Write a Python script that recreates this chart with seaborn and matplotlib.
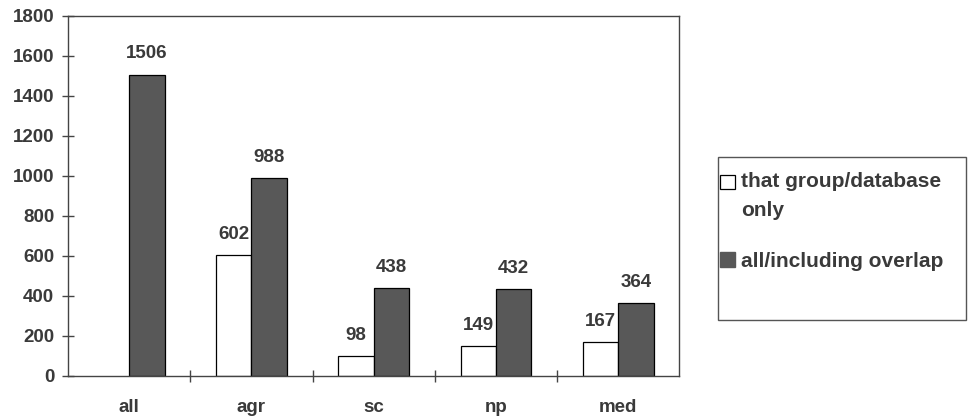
import numpy as np
import pandas as pd
import matplotlib
matplotlib.use("Agg")
import matplotlib.pyplot as plt
import seaborn as sns
from matplotlib.patches import Patch, Rectangle

# datos
categories = ['all', 'agr', 'sc', 'np', 'med']
group_only = [np.nan, 602, 98, 149, 167]
incl_overlap = [1506, 988, 438, 432, 364]
series_names = ['that group/database\nonly', 'all/including overlap']

sns.set_style("ticks")
plt.rcParams['font.family'] = ['Liberation Sans', 'DejaVu Sans']
plt.rcParams['font.weight'] = 'bold'

txt = '#3a3a3a'
fs = 13.5

df = pd.DataFrame({
    'cat': categories * 2,
    'serie': [series_names[0]] * 5 + [series_names[1]] * 5,
    'val': group_only + incl_overlap,
})
df = df.dropna()

fig = plt.figure(figsize=(9.72, 4.19), dpi=100)
ax = fig.add_axes([0.07, 0.103, 0.629, 0.859])

sns.barplot(data=df, x='cat', y='val', hue='serie', order=categories,
            hue_order=series_names, palette=['white', '#585858'],
            width=0.58, edgecolor=['black'], linewidth=0.9, ax=ax,
            legend=False, errorbar=None)

for bars in ax.containers:
    ax.bar_label(bars, fmt='%d', padding=9, fontsize=fs, color=txt,
                 fontweight='bold')

ax.set_xlim(-0.5, 4.5)
ax.set_ylim(0, 1800)
ax.set_yticks(range(0, 1801, 200))
ax.set_xlabel('')
ax.set_ylabel('')
ax.set_xticks(range(5))
ax.set_xticklabels(categories)
ax.set_xticks(np.arange(0.5, 4.5, 1), minor=True)
ax.tick_params(axis='x', which='major', length=0, pad=17, labelsize=fs,
               labelcolor=txt)
ax.tick_params(axis='x', which='minor', direction='inout', length=8,
               width=1, color='#444444')
ax.tick_params(axis='y', direction='inout', length=8, width=1,
               color='#444444', labelsize=fs, labelcolor=txt, pad=6)
for lab in ax.get_xticklabels() + ax.get_yticklabels():
    lab.set_fontweight('bold')
for s in ax.spines.values():
    s.set_color('#444444')
    s.set_linewidth(1)

# caja de la leyenda
fig.patches.append(Rectangle((718 / 972, 99 / 419), 248 / 972, 163 / 419,
                             transform=fig.transFigure, fill=False,
                             edgecolor='#555555', linewidth=1))

handles = [Patch(facecolor='white', edgecolor='black', linewidth=0.9),
           Patch(facecolor='#585858', edgecolor='#585858')]
leg = fig.legend(handles, series_names, loc='upper left',
                 bbox_to_anchor=(720 / 972, 1 - 172 / 419), frameon=False,
                 handlelength=0.7, handleheight=0.7, handletextpad=0.3,
                 labelspacing=1.5, borderpad=0, borderaxespad=0,
                 prop={'weight': 'bold', 'size': 15})
for t in leg.get_texts():
    t.set_color(txt)
    t.set_linespacing(1.7)
# cuadro del primer elemento alineado con la primera línea
h0 = leg.legend_handles[0]
h0.set_y(h0.get_y() + 10.4)

fig.savefig('out.png', dpi=100)
